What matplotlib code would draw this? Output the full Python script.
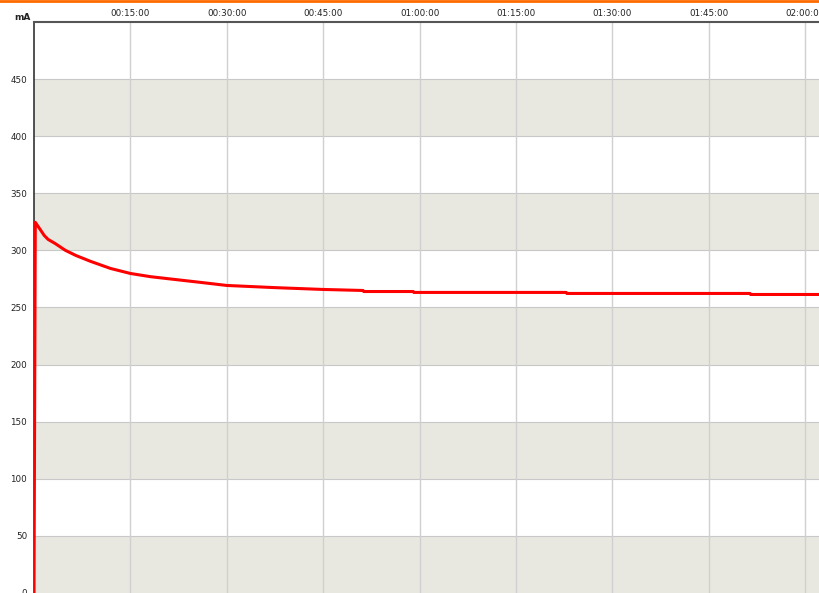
import matplotlib
matplotlib.use("Agg")
import matplotlib.pyplot as plt
from matplotlib.lines import Line2D

# time in minutes, current in mA
time_min = [0.0, 0.1, 0.2, 1.0, 1.6, 2.2, 3.3, 4.9, 6.5, 8.8, 11.9, 15.0, 18.1, 21.2, 25.9, 30.0,
            37.5, 45.0, 51.2, 51.3, 59.0, 59.1, 82.8, 82.9, 111.4, 111.5, 122.3]
current_ma = [0.0, 160.0, 324.6, 318.0, 313.0, 309.6, 306.0, 300.0, 295.6, 290.4, 284.2, 279.8, 277.0, 275.0, 272.0, 269.3,
              267.4, 265.8, 264.9, 264.0, 264.0, 263.2, 263.2, 262.3, 262.3, 261.4, 261.4]

x_ticks = [15, 30, 45, 60, 75, 90, 105, 120]
x_labels = ["00:15:00", "00:30:00", "00:45:00", "01:00:00", "01:15:00", "01:30:00", "01:45:00", "02:00:00"]
y_ticks = [0, 50, 100, 150, 200, 250, 300, 350, 400, 450]
y_unit = "mA"

fig = plt.figure(figsize=(8.2, 5.93), dpi=100)
fig.patch.set_facecolor("white")
ax = fig.add_axes([34 / 820, 0.0, 1 - 34 / 820, 1 - 22 / 593])
ax.set_xlim(0, 122.3)
ax.set_ylim(0, 500)

band_color = "#e8e8e0"
for lo in range(0, 500, 100):
    ax.axhspan(lo, lo + 50, color=band_color, zorder=0, lw=0)
for yv in y_ticks[1:]:
    ax.axhline(yv, color="#c8c8c8", lw=0.8, zorder=1)
for xv in x_ticks:
    ax.axvline(xv, color="#d0d0d0", lw=1.0, zorder=1)

ax.plot(time_min, current_ma, color="#ff0000", lw=2.2, zorder=3,
        solid_joinstyle="round", solid_capstyle="butt")

ax.xaxis.tick_top()
ax.set_xticks(x_ticks)
ax.set_xticklabels(x_labels, fontsize=6.3, color="#222222")
ax.set_yticks(y_ticks)
ax.set_yticklabels([str(v) for v in y_ticks], fontsize=6.3, color="#222222")
ax.tick_params(axis="both", length=0, pad=5)
ax.tick_params(axis="x", pad=3)

for s in ["bottom", "right"]:
    ax.spines[s].set_visible(False)
ax.spines["left"].set_color("#333333")
ax.spines["top"].set_color("#555555")
ax.spines["left"].set_linewidth(1.2)
ax.spines["top"].set_linewidth(1.5)

fig.text(22 / 820, 1 - 17 / 593, y_unit, fontsize=6.5, fontweight="bold",
         ha="center", va="center", color="#222222")

fig.add_artist(Line2D([0, 1], [1 - 1 / 593, 1 - 1 / 593], transform=fig.transFigure,
                      color="#ff6a00", lw=2.0))

fig.savefig("out.png", dpi=100)
